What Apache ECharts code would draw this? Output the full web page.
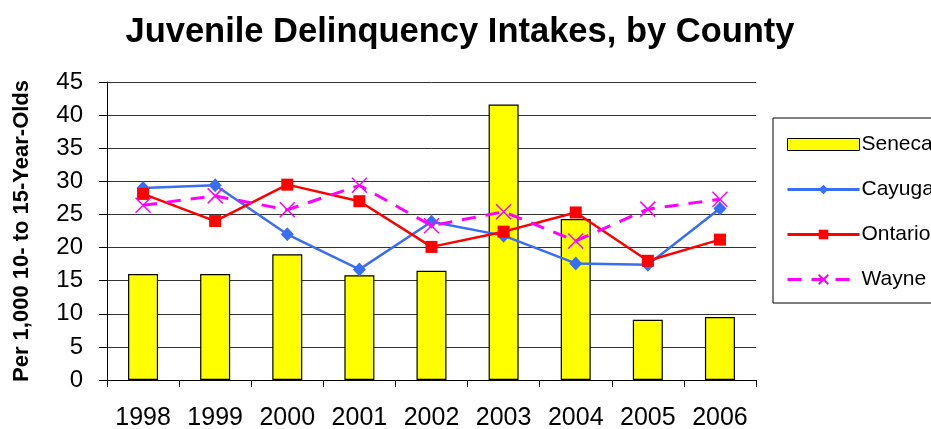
<!DOCTYPE html>
<html>
<head>
<meta charset="utf-8">
<script src="https://cdn.jsdelivr.net/npm/echarts@6/dist/echarts.min.js"></script>
<style>
  html, body { margin: 0; padding: 0; background: #fff; }
  #chart { width: 931px; height: 429px; }
</style>
</head>
<body>
<div id="chart"></div>
<script>
// Intake rates per 1,000 youths aged 10-15, by county and year
var years = ['1998', '1999', '2000', '2001', '2002', '2003', '2004', '2005', '2006'];
var seneca = [16.0, 16.0, 19.0, 15.8, 16.5, 41.6, 24.3, 9.1, 9.5];
var cayuga = [29.0, 29.4, 22.0, 16.7, 23.9, 21.8, 17.6, 17.4, 25.9];
var ontario = [28.1, 24.0, 29.5, 27.0, 20.1, 22.4, 25.3, 18.0, 21.2];
var wayne = [26.4, 27.8, 25.7, 29.4, 23.3, 25.4, 21.0, 25.8, 27.3];
var yTicks = { min: 0, max: 45, step: 5 };

var FONT = '"Liberation Sans", Arial, sans-serif';
var crossPath = 'path://M0,0L10,10M10,0L0,10';

var chart = echarts.init(document.getElementById('chart'), null, { renderer: 'canvas' });

chart.setOption({
  animation: false,
  backgroundColor: '#ffffff',
  title: {
    text: 'Juvenile Delinquency Intakes, by County',
    left: 455,
    textAlign: 'center',
    top: 10,
    textStyle: { fontFamily: FONT, fontSize: 34.5, fontWeight: 'bold', color: '#000' }
  },
  graphic: [{
    type: 'rect',
    shape: { x: 773, y: 118, width: 200, height: 185 },
    style: { fill: '#fff', stroke: '#000', lineWidth: 1 },
    z: 0
  }],
  legend: {
    orient: 'vertical',
    left: 781,
    top: 129,
    itemWidth: 72,
    itemHeight: 12,
    itemGap: 24,
    textStyle: { fontFamily: FONT, fontSize: 21, color: '#000', padding: [0, 0, 0, -3] },
    lineStyle: { width: 3 },
    data: [
      { name: 'Seneca', icon: 'rect', itemStyle: { borderWidth: 1 } },
      'Cayuga',
      'Ontario',
      'Wayne'
    ],
    z: 5
  },
  grid: { left: 107, top: 82, width: 649, height: 298, containLabel: false, outerBoundsMode: 'none' },
  xAxis: {
    type: 'category',
    data: years,
    boundaryGap: true,
    axisLine: { lineStyle: { color: '#000', width: 1 } },
    axisTick: { show: true, length: 7, inside: false, lineStyle: { color: '#000' } },
    axisLabel: { fontFamily: FONT, fontSize: 25, color: '#000', margin: 26, interval: 0 },
    splitLine: { show: false }
  },
  yAxis: {
    type: 'value',
    min: yTicks.min,
    max: yTicks.max,
    interval: yTicks.step,
    name: 'Per 1,000 10- to 15-Year-Olds',
    nameLocation: 'middle',
    nameGap: 74,
    nameRotate: 90,
    nameTextStyle: { fontFamily: FONT, fontSize: 22, fontWeight: 'bold', color: '#000' },
    axisLine: { show: true, lineStyle: { color: '#000', width: 1 } },
    axisTick: { show: true, length: 8, lineStyle: { color: '#000' } },
    axisLabel: { fontFamily: FONT, fontSize: 24, color: '#000', margin: 24 },
    splitLine: { show: true, lineStyle: { color: '#333', width: 1 } }
  },
  series: [
    {
      name: 'Seneca',
      type: 'bar',
      data: seneca,
      barWidth: 30,
      itemStyle: { color: '#FFFF00', borderColor: '#000', borderWidth: 1.2 },
      z: 2
    },
    {
      name: 'Cayuga',
      type: 'line',
      data: cayuga,
      symbol: 'diamond',
      symbolSize: [13, 14],
      lineStyle: { color: '#3A6EF2', width: 2.5 },
      itemStyle: { color: '#3A6EF2' },
      z: 3
    },
    {
      name: 'Ontario',
      type: 'line',
      data: ontario,
      symbol: 'rect',
      symbolSize: 12,
      lineStyle: { color: '#FF0000', width: 2.5 },
      itemStyle: { color: '#FF0000' },
      z: 3
    },
    {
      name: 'Wayne',
      type: 'line',
      data: wayne,
      symbol: crossPath,
      symbolSize: 15,
      lineStyle: { color: '#FF00FF', width: 3, type: [14, 10] },
      itemStyle: { color: '#FF00FF', borderColor: '#FF00FF', borderWidth: 1.5 },
      z: 4
    }
  ]
});
</script>
</body>
</html>
